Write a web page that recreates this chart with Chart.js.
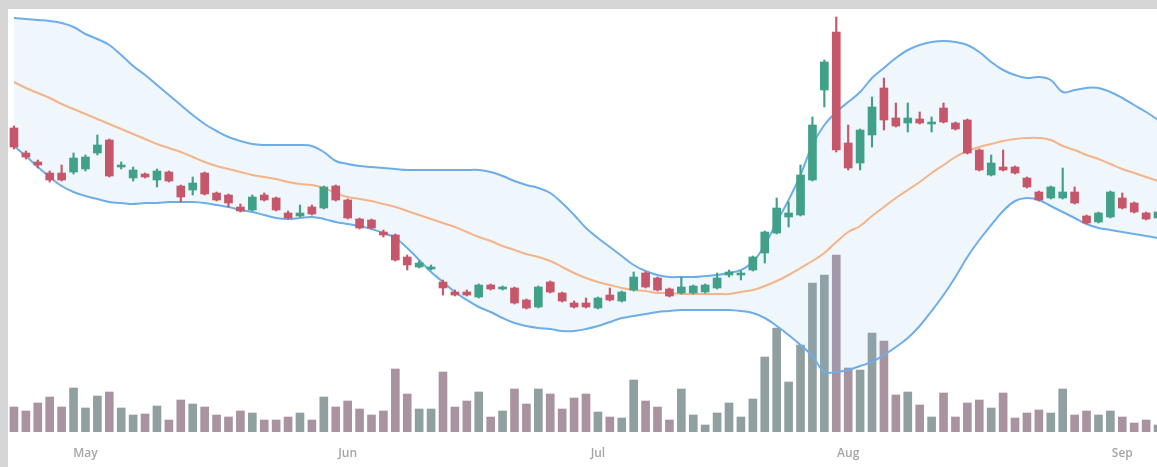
<!DOCTYPE html>
<html>
<head>
<meta charset="utf-8">
<script src="https://cdn.jsdelivr.net/npm/chart.js@4/dist/chart.umd.min.js"></script>
<style>
  html, body { margin: 0; padding: 0; background: #d6d6d6; overflow: hidden; width: 1157px; height: 467px; }
  #wrap { position: absolute; left: 8px; top: 9px; width: 1156px; height: 458px; background: #fff; }
  canvas { display: block; }
</style>
</head>
<body>
<div id="wrap"><canvas id="chart" width="1156" height="458"></canvas></div>
<script>
// Month tick labels and the bar index where each month starts
const monthNames = ['May', 'Jun', 'Jul', 'Aug', 'Sep'];
const monthStart = [6, 28, 49, 70, 93];

// Daily OHLC
const open = [
  37.2, 34.7, 33.8, 32.7, 32.7, 32.8, 33.1, 34.7, 36.0, 33.3,
  32.2, 32.6, 32.0, 32.8, 31.4, 31.0, 32.7, 30.7, 30.5, 29.3,
  29.0, 30.5, 30.2, 28.7, 28.4, 29.3, 29.2, 31.4, 30.0, 28.1,
  28.0, 26.8, 26.5, 24.3, 23.3, 23.1, 21.8, 20.8, 20.8, 20.3,
  21.5, 21.1, 21.2, 20.0, 19.3, 21.8, 20.7, 19.7, 19.7, 19.2,
  20.5, 19.9, 21.0, 22.7, 22.2, 21.1, 20.7, 20.7, 20.8, 21.2,
  22.5, 22.5, 23.0, 24.7, 26.7, 28.3, 28.5, 32.0, 41.0, 46.8,
  35.7, 33.7, 36.5, 41.2, 38.2, 37.7, 38.1, 37.6, 39.2, 37.7,
  38.0, 35.0, 32.5, 33.3, 33.3, 32.2, 30.8, 30.2, 30.2, 30.8,
  28.4, 27.8, 28.3, 30.2, 29.7, 28.7, 28.2
];
const high = [
  37.4, 34.9, 34.0, 32.9, 33.5, 34.7, 34.5, 36.5, 36.1, 33.8,
  33.3, 32.7, 33.1, 32.9, 31.5, 32.3, 32.8, 30.8, 30.6, 29.6,
  30.5, 30.7, 30.3, 28.9, 29.5, 29.5, 31.4, 31.5, 30.1, 28.2,
  28.1, 27.0, 26.6, 24.5, 23.9, 23.5, 22.0, 21.0, 21.0, 21.6,
  21.6, 21.4, 21.3, 20.1, 21.4, 21.9, 20.8, 19.9, 20.2, 20.3,
  21.2, 20.9, 22.8, 22.8, 22.3, 21.2, 22.3, 21.5, 21.6, 22.7,
  23.0, 22.9, 24.4, 26.9, 30.2, 29.8, 33.5, 38.3, 44.0, 48.3,
  37.5, 37.1, 40.3, 42.2, 39.7, 39.7, 38.8, 38.3, 39.7, 37.8,
  38.1, 35.1, 34.5, 35.0, 33.4, 32.3, 30.9, 31.4, 33.2, 31.3,
  28.5, 28.8, 30.9, 30.7, 29.8, 28.8, 28.9
];
const low = [
  35.1, 34.1, 33.2, 31.8, 31.9, 32.6, 32.9, 34.5, 32.3, 33.1,
  31.9, 32.2, 31.3, 31.8, 29.8, 30.5, 30.5, 29.9, 29.3, 28.8,
  28.9, 29.9, 28.9, 28.1, 28.3, 28.5, 29.1, 29.9, 28.1, 27.1,
  27.1, 26.3, 23.9, 23.0, 23.2, 23.0, 20.5, 20.4, 20.4, 20.2,
  21.0, 21.0, 19.6, 19.1, 19.2, 20.7, 19.8, 19.2, 19.2, 19.1,
  19.9, 19.8, 20.9, 21.2, 20.9, 20.3, 20.6, 20.6, 20.7, 21.1,
  22.3, 22.0, 22.9, 23.7, 26.6, 27.3, 28.4, 31.9, 39.3, 34.8,
  33.0, 33.0, 35.3, 37.0, 37.3, 36.8, 37.6, 36.8, 37.7, 37.0,
  34.6, 32.9, 32.4, 32.9, 32.6, 31.2, 29.9, 30.1, 30.1, 29.6,
  27.6, 27.7, 28.2, 29.1, 28.7, 28.0, 28.1
];
const close = [
  35.3, 34.3, 33.5, 32.0, 32.0, 34.2, 34.3, 35.5, 32.4, 33.5,
  33.0, 32.3, 32.9, 31.9, 30.3, 31.7, 30.6, 30.0, 29.7, 28.9,
  30.3, 30.0, 29.0, 28.2, 28.7, 28.6, 31.3, 30.0, 28.2, 27.2,
  27.2, 26.5, 24.0, 23.5, 23.7, 23.3, 21.2, 20.5, 20.5, 21.5,
  21.1, 21.3, 19.7, 19.2, 21.3, 20.8, 19.9, 19.3, 19.3, 20.2,
  20.0, 20.8, 22.3, 21.3, 21.0, 20.4, 21.3, 21.4, 21.5, 22.2,
  22.8, 22.7, 24.3, 26.8, 29.2, 28.7, 32.5, 37.5, 43.8, 35.0,
  33.2, 37.0, 39.3, 38.0, 37.4, 38.2, 37.7, 37.8, 37.8, 37.1,
  34.7, 33.0, 33.7, 33.0, 32.7, 31.3, 30.0, 31.3, 30.8, 29.7,
  27.7, 28.7, 30.8, 29.2, 28.8, 28.1, 28.8
];
const volume = [
  2500, 2100, 2900, 3500, 2500, 4400, 2400, 3600, 4000, 2400,
  1700, 1800, 2600, 1200, 3200, 2800, 2500, 1700, 1500, 2100,
  1900, 1200, 1200, 1500, 1900, 1200, 3500, 2500, 3100, 2300,
  1700, 2100, 6300, 3800, 2300, 2300, 6000, 2500, 3100, 4000,
  1500, 2100, 4300, 2800, 4300, 3800, 2300, 3400, 3800, 2000,
  1500, 1400, 5200, 3100, 2500, 1200, 4300, 1700, 700, 1900,
  2900, 1500, 3300, 7500, 10400, 5000, 8700, 14900, 15700, 17700,
  6400, 6200, 9900, 9100, 3700, 4000, 2700, 1500, 3900, 1500,
  2900, 3200, 2400, 3900, 1400, 1900, 2200, 1900, 4300, 1700,
  2100, 1700, 2100, 1500, 900, 1200, 700
];

// Bollinger bands (upper / middle / lower)
const bbUpper = [
  48.2, 48.1, 48.0, 47.9, 47.7, 47.3, 46.6, 46.1, 45.5, 44.5,
  43.4, 42.5, 41.5, 40.5, 39.5, 38.5, 37.6, 36.9, 36.3, 35.9,
  35.6, 35.5, 35.5, 35.5, 35.5, 35.4, 34.8, 33.9, 33.6, 33.4,
  33.3, 33.2, 33.1, 33.0, 33.0, 33.0, 33.0, 33.0, 33.0, 33.0,
  32.8, 32.4, 31.9, 31.5, 31.2, 30.7, 29.7, 28.5, 27.2, 26.2,
  25.3, 24.4, 23.5, 22.9, 22.5, 22.3, 22.3, 22.3, 22.4, 22.5,
  22.7, 23.0, 23.8, 25.5, 27.8, 30.0, 32.5, 35.5, 37.5, 38.8,
  39.8, 40.8, 42.2, 43.2, 44.2, 45.0, 45.5, 45.8, 45.9, 45.8,
  45.5, 44.8, 43.8, 43.0, 42.5, 42.2, 42.3, 42.0, 40.8, 41.0,
  41.2, 41.2, 40.8, 40.2, 39.5, 38.8, 38.0
];
const bbMiddle = [
  41.8, 41.2, 40.7, 40.2, 39.6, 39.1, 38.6, 38.1, 37.6, 37.1,
  36.6, 36.1, 35.6, 35.2, 34.8, 34.3, 33.8, 33.4, 33.1, 32.8,
  32.5, 32.3, 32.1, 31.8, 31.6, 31.5, 31.2, 30.7, 30.3, 30.1,
  29.9, 29.6, 29.3, 28.9, 28.5, 28.1, 27.7, 27.3, 26.8, 26.3,
  25.9, 25.4, 25.0, 24.6, 24.3, 23.9, 23.3, 22.7, 22.2, 21.8,
  21.5, 21.2, 21.0, 20.9, 20.7, 20.7, 20.6, 20.6, 20.6, 20.6,
  20.6, 20.8, 21.0, 21.4, 21.9, 22.5, 23.2, 23.9, 24.7, 25.8,
  26.8, 27.4, 28.4, 29.3, 30.2, 31.0, 31.8, 32.7, 33.5, 34.3,
  34.9, 35.3, 35.6, 35.9, 36.1, 36.2, 36.2, 36.0, 35.4, 35.0,
  34.5, 34.1, 33.6, 33.1, 32.7, 32.3, 31.9
];
const bbLower = [
  35.4, 34.4, 33.3, 32.3, 31.4, 30.8, 30.4, 30.1, 29.8, 29.7,
  29.6, 29.7, 29.7, 29.8, 29.8, 29.8, 29.7, 29.5, 29.3, 29.0,
  28.8, 28.5, 28.2, 28.1, 28.2, 28.3, 28.1, 27.8, 27.6, 27.4,
  27.1, 26.7, 26.2, 25.2, 24.0, 22.8, 21.8, 20.8, 20.0, 19.3,
  18.8, 18.2, 17.7, 17.4, 17.2, 17.1, 16.9, 16.9, 17.1, 17.4,
  17.8, 18.2, 18.4, 18.6, 18.8, 18.9, 19.0, 19.0, 19.0, 19.0,
  19.0, 18.9, 18.7, 18.2, 17.4, 16.5, 15.5, 14.4, 12.8, 12.8,
  13.0, 13.4, 13.8, 14.5, 15.3, 16.2, 17.4, 18.9, 20.5, 22.3,
  24.3, 26.0, 27.5, 28.9, 29.9, 30.2, 30.0, 29.4, 28.8, 28.2,
  27.6, 27.2, 27.0, 26.8, 26.6, 26.4, 26.2
];

// Colours
const upColor = '#40a088';
const downColor = '#c6566a';
const volUpColor = '#909f9f';
const volDownColor = '#aa93a0';

const categories = open.map((o, i) => {
  const k = monthStart.indexOf(i);
  return k >= 0 ? monthNames[k] : '';
});
const isUp = open.map((o, i) => close[i] >= o);

const ctx = document.getElementById('chart').getContext('2d');
new Chart(ctx, {
  type: 'bar',
  data: {
    labels: categories,
    datasets: [
      {
        type: 'bar',
        label: 'Body',
        data: open.map((o, i) => [o, close[i]]),
        backgroundColor: isUp.map(u => u ? upColor : downColor),
        barThickness: 8,
        grouped: false,
        borderSkipped: false,
        yAxisID: 'y',
        order: 0
      },
      {
        type: 'bar',
        label: 'Wick',
        data: low.map((l, i) => [l, high[i]]),
        backgroundColor: isUp.map(u => u ? upColor : downColor),
        barThickness: 1.5,
        grouped: false,
        borderSkipped: false,
        yAxisID: 'y',
        order: 1
      },
      {
        type: 'line',
        label: 'Middle',
        data: bbMiddle,
        borderColor: '#f4b48a',
        borderWidth: 2,
        pointRadius: 0,
        tension: 0.4,
        fill: false,
        yAxisID: 'y',
        order: 2
      },
      {
        type: 'line',
        label: 'Upper',
        data: bbUpper,
        borderColor: '#6eaee8',
        borderWidth: 2,
        pointRadius: 0,
        tension: 0.4,
        fill: false,
        yAxisID: 'y',
        order: 3
      },
      {
        type: 'line',
        label: 'Lower',
        data: bbLower,
        borderColor: '#6eaee8',
        borderWidth: 2,
        pointRadius: 0,
        tension: 0.4,
        fill: '-1',
        backgroundColor: 'rgba(120,180,230,0.12)',
        yAxisID: 'y',
        order: 3
      },
      {
        type: 'bar',
        label: 'Volume',
        data: volume,
        backgroundColor: isUp.map(u => u ? volUpColor : volDownColor),
        barThickness: 8,
        grouped: false,
        yAxisID: 'yv',
        order: 5
      }
    ]
  },
  options: {
    responsive: false,
    animation: false,
    devicePixelRatio: 1,
    layout: { padding: 0, autoPadding: false },
    plugins: {
      legend: { display: false },
      tooltip: { enabled: false }
    },
    scales: {
      x: {
        grid: { display: false },
        border: { display: false },
        ticks: {
          autoSkip: false,
          maxRotation: 0,
          padding: 6,
          color: '#a6a6a6',
          font: { family: '"Open Sans", sans-serif', size: 12, weight: '600' }
        },
        afterFit: s => { s.height = 35; s.paddingLeft = 0; s.paddingRight = 0; }
      },
      y: { display: false, min: 6.8, max: 49.1 },
      yv: { display: false, min: 0, max: 42300 }
    }
  }
});
</script>
</body>
</html>
